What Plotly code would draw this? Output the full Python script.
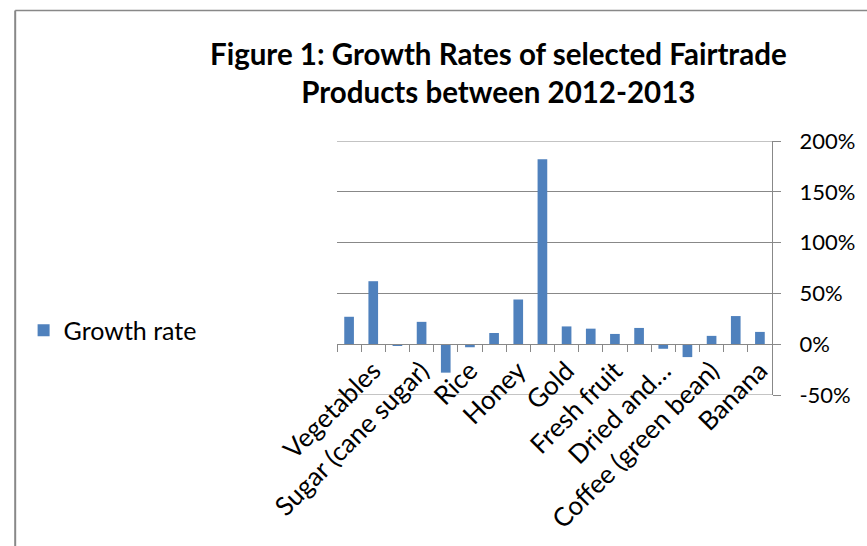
import plotly.graph_objects as go

categories = ["Wine grapes", "Vegetables", "Tea", "Sugar (cane sugar)", "Sports balls",
              "Rice", "Quinoa", "Honey", "Herbs & spices", "Gold", "Fruit juices",
              "Fresh fruit", "Flowers", "Dried and...", "Cotton", "Coffee (green bean)",
              "Cocoa", "Banana"]
growth = [0.27, 0.62, -0.015, 0.22, -0.28, -0.03, 0.11, 0.44, 1.82, 0.175, 0.153,
          0.101, 0.16, -0.045, -0.127, 0.082, 0.277, 0.121]
shown_labels = ["", "Vegetables", "", "Sugar (cane sugar)", "", "Rice", "", "Honey", "",
                "Gold", "", "Fresh fruit", "", "Dried and…", "", "Coffee (green bean)", "", "Banana"]
y_ticks = [-0.5, 0, 0.5, 1.0, 1.5, 2.0]
y_tick_text = ["-50%", "0%", "50%", "100%", "150%", "200%"]
y_min, y_max = -0.5, 2.0
title_text = "<b>Figure 1: Growth Rates of selected Fairtrade<br>Products between 2012-2013</b>"

W, H = 867, 546
L, R, T, B = 337, 777, 141, 397

FONT = "Lato"
GRAY = "#888888"

fig = go.Figure()
fig.add_trace(go.Bar(x=categories, y=growth, name="Growth rate",
                     marker=dict(color="#4F81BD", line=dict(width=0))))

fig.update_layout(
    width=W, height=H,
    margin=dict(l=L, r=W - R, t=T, b=H - B, pad=0),
    paper_bgcolor="white", plot_bgcolor="white",
    bargap=0.6,
    font=dict(family=FONT, size=22, color="black"),
    showlegend=True,
    legend=dict(x=(20 - L) / (R - L), xanchor="left", y=(B - 332) / (B - T), yanchor="middle",
                font=dict(family=FONT, size=25, color="black"), bgcolor="rgba(0,0,0,0)"),
)

fig.add_annotation(text=title_text, xref="paper", yref="paper",
                   x=(500 - L) / (R - L), xanchor="center",
                   y=(B - 72) / (B - T), yanchor="middle",
                   showarrow=False, align="center",
                   font=dict(family=FONT, size=29.5, color="black"))

fig.update_xaxes(
    type="category", tickmode="array", tickvals=categories, ticktext=shown_labels,
    tickangle=-45, tickson="boundaries", ticks="outside", ticklen=7, tickcolor=GRAY, tickwidth=1,
    showline=True, linecolor=GRAY, linewidth=1, showgrid=False, zeroline=False,
    anchor="free", position=(0 - y_min) / (y_max - y_min),
    tickfont=dict(family=FONT, size=26, color="black"),
)
fig.update_yaxes(
    range=[y_min, y_max], side="right", tickmode="array", tickvals=y_ticks, ticktext=y_tick_text,
    ticks="outside", ticklen=8, tickcolor=GRAY, showline=True, linecolor=GRAY, linewidth=1,
    showgrid=True, gridcolor=GRAY, gridwidth=1, zeroline=False,
    ticklabelstandoff=14,
    tickfont=dict(family=FONT, size=22, color="black"),
)

# edge gridlines (Plotly omits grid at the range ends)
for yv in (y_min, y_max):
    fig.add_shape(type="line", xref="paper", yref="y", x0=0, x1=1, y0=yv, y1=yv,
                  line=dict(color=GRAY, width=1), layer="below")

# chart-area border (cropped Excel chart)
fig.add_shape(type="line", xref="paper", yref="paper",
              x0=(11.5 - L) / (R - L), x1=(W + 10 - L) / (R - L),
              y0=(B - 9.5) / (B - T), y1=(B - 9.5) / (B - T),
              line=dict(color=GRAY, width=1.5))
fig.add_shape(type="line", xref="paper", yref="paper",
              x0=(11.5 - L) / (R - L), x1=(11.5 - L) / (R - L),
              y0=(B - 9.5) / (B - T), y1=(B - H - 10) / (B - T),
              line=dict(color=GRAY, width=2))

fig.write_html("out.html")
